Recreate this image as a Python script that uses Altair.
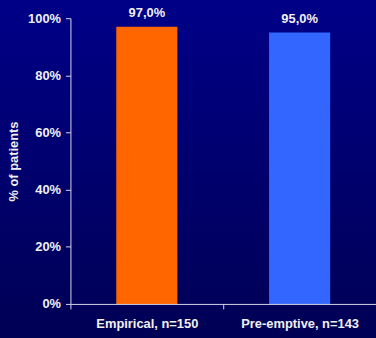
import altair as alt
import pandas as pd

categories = ["Empirical, n=150", "Pre-emptive, n=143"]
values = [97.0, 95.0]
labels = ["97,0%", "95,0%"]
colors = ["#FF6600", "#3366FF"]

df = pd.DataFrame({"cat": categories, "val": values, "lab": labels, "col": colors})

bg = alt.Chart(pd.DataFrame({"a": [0]})).mark_rect(
    color=alt.LinearGradient(
        gradient="linear", x1=0, x2=0, y1=0, y2=1,
        stops=[alt.GradientStop(color="#000088", offset=0),
               alt.GradientStop(color="#000052", offset=1)]
    )
).encode(x=alt.value(-80), x2=alt.value(320), y=alt.value(-20), y2=alt.value(340))

x = alt.X("cat:N", sort=categories, title=None,
          scale=alt.Scale(paddingInner=0, paddingOuter=0),
          axis=alt.Axis(labelAngle=0, tickBand="extent", tickSize=5, zindex=1,
                        labelPadding=9, domainColor="#d8d8e8", tickColor="#d8d8e8",
                        labelColor="#f0f0f0", labelFont="Liberation Sans",
                        labelFontWeight="bold", labelFontSize=13))
y = alt.Y("val:Q", title="% of patients",
          scale=alt.Scale(domain=[0, 100], nice=False),
          axis=alt.Axis(values=[0, 20, 40, 60, 80, 100], labelExpr="datum.value + '%'",
                        grid=False, tickSize=5, labelPadding=5, zindex=1,
                        domainColor="#d8d8e8", tickColor="#d8d8e8",
                        labelColor="#f0f0f0", labelFont="Liberation Sans",
                        labelFontWeight="bold", labelFontSize=13,
                        titleColor="#f0f0f0", titleFont="Liberation Sans",
                        titleFontWeight="bold", titleFontSize=13, titlePadding=7))

bars = alt.Chart(df).mark_bar(width=alt.RelativeBandSize(0.4)).encode(
    x=x, y=y, color=alt.Color("col:N", scale=None)
)
text = alt.Chart(df).mark_text(
    dy=-7, baseline="bottom", font="Liberation Sans", fontWeight="bold",
    fontSize=13, color="#f0f0f0"
).encode(x=alt.X("cat:N", sort=categories), y="val:Q", text="lab:N")

chart = alt.layer(bg, bars, text).properties(
    width=308, height=288,
    background="#00006c",
    autosize=alt.AutoSizeParams(type="none"),
    padding={"left": 71, "top": 17, "right": 0, "bottom": 33},
).configure_view(stroke=None)

chart.save("out.html", embed_options={"renderer": "svg", "actions": False})
